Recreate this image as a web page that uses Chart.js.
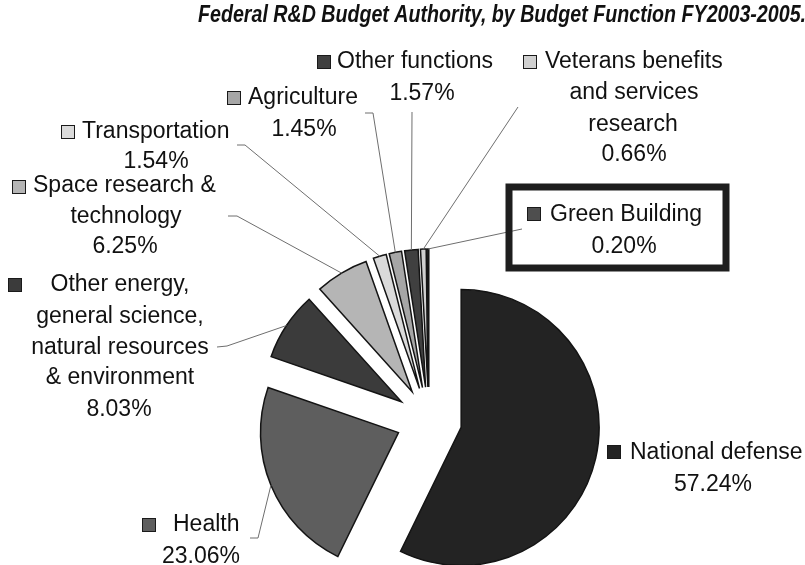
<!DOCTYPE html>
<html>
<head>
<meta charset="utf-8">
<script src="https://cdn.jsdelivr.net/npm/chart.js@4.4.0/dist/chart.umd.min.js"></script>
<style>
  html, body { margin: 0; padding: 0; background: #ffffff; overflow: hidden; }
  #wrap { width: 805px; height: 565px; position: relative; }
</style>
</head>
<body>
<div id="wrap"><canvas id="c" width="805" height="565"></canvas></div>
<script>
// ---- data ----
const title = 'Federal R&D Budget Authority, by Budget Function FY2003-2005.';
const categories = [
  'National defense',
  'Health',
  'Other energy, general science, natural resources & environment',
  'Space research & technology',
  'Transportation',
  'Agriculture',
  'Other functions',
  'Veterans benefits and services research',
  'Green Building'
];
const labelLines = [
  ['National defense'],
  ['Health'],
  ['Other energy,', 'general science,', 'natural resources', '& environment'],
  ['Space research &', 'technology'],
  ['Transportation'],
  ['Agriculture'],
  ['Other functions'],
  ['Veterans benefits', 'and services', 'research'],
  ['Green Building']
];
const shares = [57.24, 23.06, 8.03, 6.25, 1.54, 1.45, 1.57, 0.66, 0.20];
const shareLabels = ['57.24%', '23.06%', '8.03%', '6.25%', '1.54%', '1.45%', '1.57%', '0.66%', '0.20%'];

// ---- styles ----
const sliceColors = ['#232323', '#5e5e5e', '#3b3b3b', '#b5b5b5', '#dadada', '#a6a6a6', '#404040', '#d0d0d0', '#4e4e4e'];
const EXPLODE = 33;
const LABEL_FONT = '23px "Liberation Sans", Arial, sans-serif';
const TITLE_FONT = 'italic bold 24px "Liberation Sans", Arial, sans-serif';
const TITLE_WIDTH = 608;

// label layout: key square top-left, per-line [x, y, align], leader start points
const labelLayout = [
  { key: [607, 445], lines: [[630, 453, 'left'], [713, 485, 'center']], leader: null },
  { key: [142, 518], lines: [[173, 525, 'left'], [201, 557, 'center']], leader: [[250, 538], [258, 538]] },
  { key: [8, 278], lines: [[120, 285, 'center'], [120, 317, 'center'], [120, 348, 'center'], [120, 378, 'center'], [119, 410, 'center']], leader: [[217, 347], [227, 346]] },
  { key: [12, 180], lines: [[33, 186, 'left'], [126, 217, 'center'], [125, 247, 'center']], leader: [[228, 216], [237, 216]] },
  { key: [61, 125], lines: [[82, 132, 'left'], [156, 162, 'center']], leader: [[237, 145], [245, 145]] },
  { key: [227, 91], lines: [[248, 98, 'left'], [304, 130, 'center']], leader: [[365, 113], [373, 113]] },
  { key: [317, 55], lines: [[337, 62, 'left'], [422, 94, 'center']], leader: [[412, 112]] },
  { key: [523, 55], lines: [[545, 62, 'left'], [634, 93, 'center'], [633, 125, 'center'], [634, 155, 'center']], leader: [[518, 107]] },
  { key: [527, 207], lines: [[550, 215, 'left'], [624, 247, 'center']], leader: [[522, 229]], box: [509, 187, 217, 81] }
];

const explodePlugin = {
  id: 'explodePie',
  beforeDatasetDraw(chart, args) {
    const ctx = chart.ctx;
    args.meta.data.forEach((arc) => {
      const mid = (arc.startAngle + arc.endAngle) / 2;
      ctx.save();
      ctx.translate(Math.cos(mid) * EXPLODE, Math.sin(mid) * EXPLODE);
      arc.draw(ctx);
      ctx.restore();
    });
    return false;
  }
};

const labelPlugin = {
  id: 'pieLabels',
  afterDraw(chart) {
    const ctx = chart.ctx;
    const arcs = chart.getDatasetMeta(0).data;
    ctx.save();
    // leader lines
    ctx.strokeStyle = '#6e6e6e';
    ctx.lineWidth = 1;
    labelLayout.forEach((lay, i) => {
      if (!lay.leader) return;
      const arc = arcs[i];
      const mid = (arc.startAngle + arc.endAngle) / 2;
      const R = arc.outerRadius + EXPLODE;
      const ex = arc.x + Math.cos(mid) * R;
      const ey = arc.y + Math.sin(mid) * R;
      ctx.beginPath();
      ctx.moveTo(lay.leader[0][0], lay.leader[0][1]);
      for (let k = 1; k < lay.leader.length; k++) ctx.lineTo(lay.leader[k][0], lay.leader[k][1]);
      ctx.lineTo(ex, ey);
      ctx.stroke();
    });
    // boxes
    labelLayout.forEach((lay) => {
      if (!lay.box) return;
      ctx.strokeStyle = '#1e1e1e';
      ctx.lineWidth = 7;
      ctx.strokeRect(lay.box[0], lay.box[1], lay.box[2], lay.box[3]);
    });
    // keys + text
    ctx.font = LABEL_FONT;
    ctx.textBaseline = 'middle';
    labelLayout.forEach((lay, i) => {
      ctx.fillStyle = sliceColors[i];
      ctx.fillRect(lay.key[0], lay.key[1], 14, 14);
      ctx.strokeStyle = '#1a1a1a';
      ctx.lineWidth = 1;
      ctx.strokeRect(lay.key[0] + 0.5, lay.key[1] + 0.5, 13, 13);
      const texts = labelLines[i].concat([shareLabels[i]]);
      ctx.fillStyle = '#111';
      texts.forEach((t, k) => {
        const pos = lay.lines[k];
        ctx.textAlign = pos[2];
        ctx.fillText(t, pos[0], pos[1]);
      });
    });
    // title (condensed bold italic)
    ctx.font = TITLE_FONT;
    ctx.textAlign = 'right';
    ctx.textBaseline = 'alphabetic';
    ctx.fillStyle = '#111';
    const w = ctx.measureText(title).width;
    ctx.translate(806, 22);
    ctx.scale(TITLE_WIDTH / w, 1);
    ctx.fillText(title, 0, 0);
    ctx.restore();
  }
};

new Chart(document.getElementById('c'), {
  type: 'pie',
  data: {
    labels: categories,
    datasets: [{
      data: shares,
      backgroundColor: sliceColors,
      borderColor: '#141414',
      borderWidth: 1.5,
      borderJoinStyle: 'miter',
      radius: 138,
      clip: false
    }]
  },
  options: {
    responsive: false,
    animation: false,
    devicePixelRatio: 1,
    radius: 138,
    layout: { padding: { left: 329, right: 276, top: 320, bottom: 45 } },
    plugins: {
      legend: { display: false },
      title: { display: false },
      tooltip: { enabled: false }
    }
  },
  plugins: [explodePlugin, labelPlugin]
});
</script>
</body>
</html>
